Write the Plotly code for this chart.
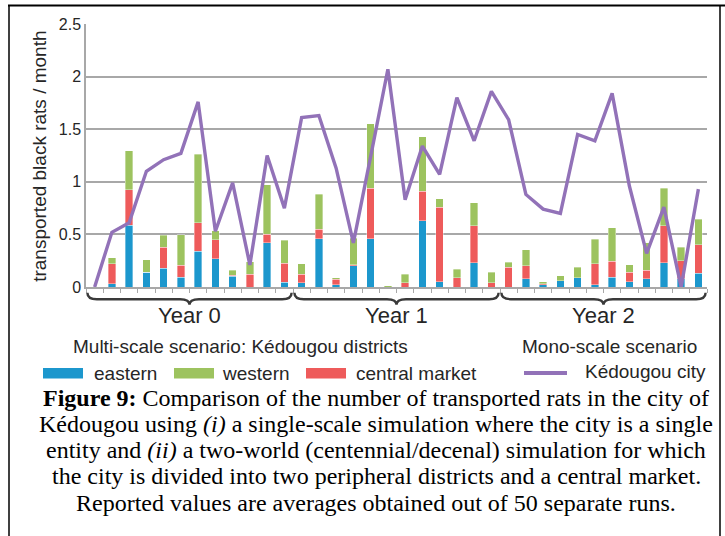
import plotly.graph_objects as go

months = list(range(36))
eastern = [0, 0.03, 0.585, 0.14, 0.18, 0.095, 0.34, 0.27, 0.10, 0, 0.42, 0.045,
           0.04, 0.46, 0.02, 0.20, 0.46, 0, 0, 0.63, 0.05, 0, 0.23, 0,
           0, 0.08, 0.02, 0.06, 0.09, 0.02, 0.095, 0.05, 0.08, 0.23, 0.08, 0.13]
central_market = [0, 0.19, 0.34, 0, 0.20, 0.11, 0.27, 0.18, 0.01, 0.12, 0.08, 0.18,
                  0.08, 0.09, 0.055, 0.013, 0.48, 0, 0.04, 0.28, 0.71, 0.09, 0.35, 0.04,
                  0.19, 0.12, 0.013, 0, 0, 0.20, 0.15, 0.09, 0.08, 0.35, 0.17, 0.27]
western = [0, 0.06, 0.37, 0.12, 0.11, 0.29, 0.65, 0.085, 0.05, 0.12, 0.47, 0.22,
           0.10, 0.33, 0.013, 0.25, 0.61, 0.013, 0.08, 0.52, 0.08, 0.08, 0.22, 0.10,
           0.045, 0.155, 0.019, 0.045, 0.10, 0.235, 0.32, 0.07, 0.26, 0.36, 0.13, 0.245]
kedougou_city = [0, 0.52, 0.61, 1.10, 1.21, 1.27, 1.76, 0.53, 0.99, 0.21, 1.25, 0.75,
                 1.61, 1.63, 1.13, 0.42, 1.24, 2.07, 0.83, 1.34, 1.07, 1.80, 1.39, 1.86,
                 1.59, 0.88, 0.74, 0.70, 1.45, 1.39, 1.84, 0.96, 0.32, 0.76, 0.00, 0.93]
year_labels = ["Year 0", "Year 1", "Year 2"]
y_ticks = [0, 0.5, 1, 1.5, 2, 2.5]
y_ticktext = ["0", "0.5", "1", "1.5", "2", "2.5"]

BLUE = "#1c97cd"
GREEN = "#9dc35f"
RED = "#ee5b5b"
PURPLE = "#9272b8"
GRID = "#a8a8a8"
SANS = "Liberation Sans, Arial, sans-serif"
SERIF = "Liberation Serif, Times New Roman, serif"

W, H = 725, 536
L, R, T, B = 86, 707, 24, 287.3
PW, PH = R - L, B - T


def px(xp):
    return (xp - L) / PW


def py(yp):
    return (B - yp) / PH


fig = go.Figure()
bar_line = dict(color="rgba(255,255,255,0.6)", width=0.6)
fig.add_trace(go.Bar(x=months, y=eastern, marker=dict(color=BLUE, line=bar_line),
                     width=0.44, name="eastern"))
fig.add_trace(go.Bar(x=months, y=central_market, marker=dict(color=RED, line=bar_line),
                     width=0.44, name="central market"))
fig.add_trace(go.Bar(x=months, y=western, marker=dict(color=GREEN, line=bar_line),
                     width=0.44, name="western"))
fig.add_trace(go.Scatter(x=months, y=kedougou_city, mode="lines",
                         line=dict(color=PURPLE, width=3.4), name="Kédougou city"))

shapes = []
# braces under the axis for the years
spans = [(-0.42, 11.42), (11.58, 23.42), (23.58, 35.42)]
yt, yl, ytip = py(293), py(299.5), py(305)
for a, b in spans:
    m = (a + b) / 2
    d = 0.55
    path = (f"M {a},{yt} Q {a},{yl} {a + d},{yl} L {m - d},{yl} "
            f"Q {m},{yl} {m},{ytip} Q {m},{yl} {m + d},{yl} "
            f"L {b - d},{yl} Q {b},{yl} {b},{yt}")
    shapes.append(dict(type="path", path=path, xref="x", yref="paper",
                       line=dict(color="#3a3a3a", width=2.4)))

# manual legend
leg_y0, leg_y1 = py(368.5), py(379)
for x0, x1, c in [(43, 83, BLUE), (174, 214, GREEN), (306, 346, RED)]:
    shapes.append(dict(type="rect", xref="paper", yref="paper",
                       x0=px(x0), x1=px(x1), y0=leg_y0, y1=leg_y1,
                       fillcolor=c, line=dict(width=0)))
shapes.append(dict(type="line", xref="paper", yref="paper",
                   x0=px(524), x1=px(567), y0=py(373.5), y1=py(373.5),
                   line=dict(color=PURPLE, width=4)))

# frame
shapes.append(dict(type="line", xref="paper", yref="paper", x0=px(8), x1=px(725),
                   y0=py(5.5), y1=py(5.5), line=dict(color="black", width=2)))
shapes.append(dict(type="line", xref="paper", yref="paper", x0=px(9), x1=px(9),
                   y0=py(5.5), y1=py(540), line=dict(color="black", width=1.5)))
shapes.append(dict(type="line", xref="paper", yref="paper", x0=px(720), x1=px(720),
                   y0=py(5.5), y1=py(540), line=dict(color="black", width=1.5)))

annotations = []
annotations.append(dict(text="transported black rats / month", textangle=-90,
                        xref="paper", yref="paper", x=px(40), y=py(157),
                        xanchor="center", yanchor="middle",
                        showarrow=False, font=dict(family=SANS, size=19, color="#262626")))
for (a, b), lab in zip(spans, year_labels):
    annotations.append(dict(text=lab, xref="x", yref="paper", x=(a + b) / 2, y=py(316),
                            xanchor="center", yanchor="middle",
                            showarrow=False, font=dict(family=SANS, size=22, color="#262626")))
legend_texts = [
    ("Multi-scale scenario: Kédougou districts", 240, 347, "center"),
    ("Mono-scale scenario", 609, 347, "center"),
    ("eastern", 92, 374, "left"),
    ("western", 220, 374, "left"),
    ("central market", 354, 374, "left"),
    ("Kédougou city", 583, 372, "left"),
]
for txt, xx, yy, al in legend_texts:
    annotations.append(dict(text=txt, xref="paper", yref="paper", x=px(xx), y=py(yy),
                            xanchor=al, yanchor="middle", showarrow=False,
                            font=dict(family=SANS, size=19, color="#262626")))
caption = [
    "<b>Figure 9:</b> Comparison of the number of transported rats in the city of",
    "Kédougou using <i>(i)</i> a single-scale simulation where the city is a single",
    "entity and <i>(ii)</i> a two-world (centennial/decenal) simulation for which",
    "the city is divided into two peripheral districts and a central market.",
    "Reported values are averages obtained out of 50 separate runs.",
]
for k, line in enumerate(caption):
    annotations.append(dict(text=line, xref="paper", yref="paper", x=px(376),
                            y=py(398 + 26.3 * k), xanchor="center", yanchor="middle",
                            showarrow=False, font=dict(family=SERIF, size=24, color="black")))

fig.update_layout(
    width=W, height=H, barmode="stack", showlegend=False,
    paper_bgcolor="white", plot_bgcolor="white",
    margin=dict(l=L, r=W - R, t=T, b=H - B, pad=0, autoexpand=False),
    shapes=shapes, annotations=annotations,
    xaxis=dict(range=[-0.5, 35.5], showgrid=False, zeroline=False,
               showline=True, linecolor=GRID, linewidth=1.5,
               tickmode="array", tickvals=[i - 0.5 for i in range(37)],
               ticks="outside", ticklen=4, tickcolor=GRID, tickwidth=1,
               showticklabels=False),
    yaxis=dict(range=[0, 2.5], tickmode="array", tickvals=y_ticks, ticktext=y_ticktext,
               showgrid=True, gridcolor=GRID, gridwidth=1.5, zeroline=False,
               showline=True, linecolor=GRID, linewidth=1.5, ticks="",
               tickfont=dict(family=SANS, size=16, color="#262626")),
)

fig.write_html("out.html", config={"displayModeBar": False},
               post_script="document.body.style.margin='0';document.body.style.overflow='hidden';")
